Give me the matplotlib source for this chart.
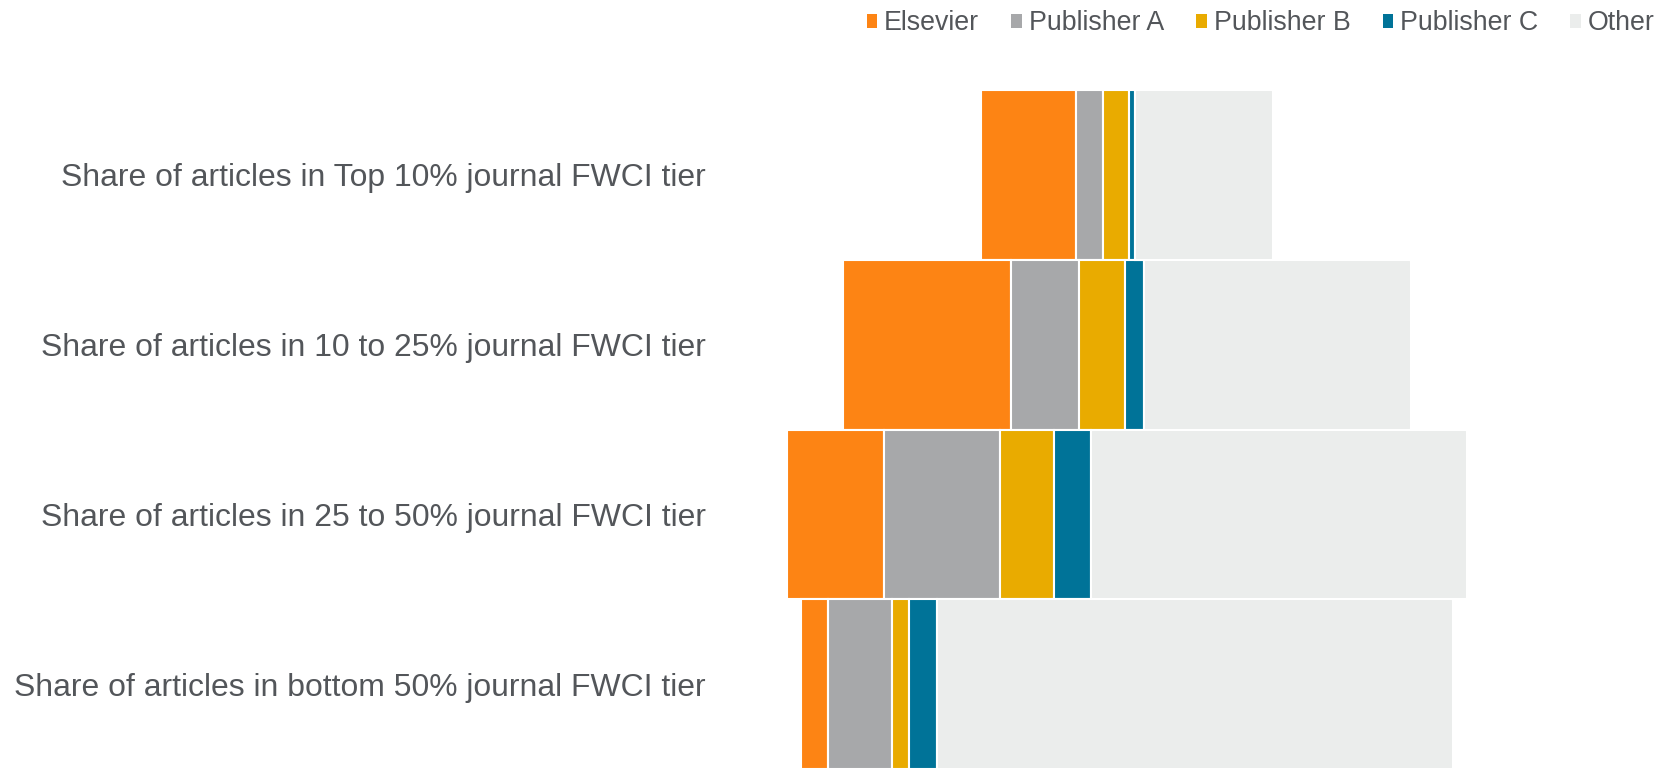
import matplotlib
matplotlib.use("Agg")
import matplotlib.pyplot as plt
from matplotlib.patches import Patch
import numpy as np

plt.rcParams["font.family"] = ["Liberation Sans", "DejaVu Sans"]

# -------------------------------
# data
# -------------------------------
tiers = [
    "Share of articles in Top 10% journal FWCI tier",
    "Share of articles in 10 to 25% journal FWCI tier",
    "Share of articles in 25 to 50% journal FWCI tier",
    "Share of articles in bottom 50% journal FWCI tier",
]
publishers = ["Elsevier", "Publisher A", "Publisher B", "Publisher C", "Other"]
elsevier = [13.9, 24.6, 14.2, 4.1]
publisher_a = [4.0, 10.0, 17.1, 9.4]
publisher_b = [3.8, 6.8, 7.9, 2.4]
publisher_c = [0.9, 2.8, 5.4, 4.1]
other = [20.3, 39.2, 55.3, 76.0]

colors = ["#FD8414", "#A7A8AA", "#E9AB00", "#007398", "#EBEDEC"]
text_color = "#53565A"

# -------------------------------
# plot
# -------------------------------
fig = plt.figure(figsize=(16.75, 7.69), dpi=100)
ax = fig.add_axes([720 / 1675, 0.0, 814 / 1675, 679 / 769])

series = [elsevier, publisher_a, publisher_b, publisher_c, other]
data = np.array(series)
totals = data.sum(axis=0)
left = -totals / 2  # centre each bar
y = np.arange(len(tiers))

for vals, name, col in zip(series, publishers, colors):
    ax.barh(y, vals, left=left, height=1.0, color=col,
            edgecolor="white", linewidth=1.5, label=name)
    left = left + np.array(vals)

ax.set_xlim(-59.85, 59.85)
ax.set_ylim(3.5, -0.5)
ax.set_yticks(y)
ax.set_yticklabels(tiers, fontsize=22.95, color=text_color)
ax.tick_params(axis="y", length=0, pad=10)
ax.set_xticks([])
for s in ax.spines.values():
    s.set_visible(False)

handles = [Patch(facecolor=c, edgecolor="none") for c in colors]
fig.legend(handles, publishers, loc="upper right",
           bbox_to_anchor=(1668 / 1675, 1.004), ncol=5, frameon=False,
           fontsize=19.3, labelcolor=text_color, borderaxespad=0.1,
           handlelength=0.4, handleheight=0.4, handletextpad=0.25,
           columnspacing=1.2)

fig.savefig("out.png", dpi=100)
